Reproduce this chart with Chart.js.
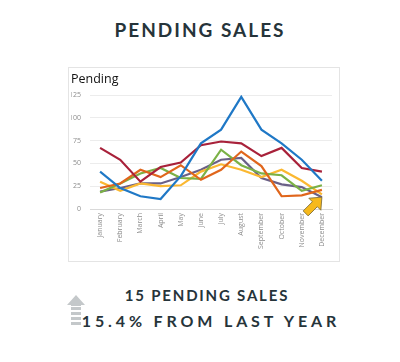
<!DOCTYPE html>
<html>
<head>
<meta charset="utf-8">
<script src="https://cdn.jsdelivr.net/npm/chart.js@4"></script>
<style>
    body { margin: 0; background: #fff; width: 400px; height: 362px; position: relative; overflow: hidden; font-family: Lato, sans-serif; color: #26343a; }
    .heading { position: absolute; top: 18px; left: 0; width: 400px; text-align: center; font-size: 19px; font-weight: 700; letter-spacing: 2px; }
    .box { position: absolute; left: 68px; top: 67px; width: 272px; height: 195px; border: 1px solid #e4e4e4; box-sizing: border-box; }
    .box canvas { display: block; }
    .line1 { position: absolute; top: 286px; left: 7px; width: 400px; text-align: center; font-size: 15px; font-weight: 700; letter-spacing: 1.8px; }
    .line2 { position: absolute; top: 311px; left: 11px; width: 400px; text-align: center; font-size: 16px; font-weight: 700; letter-spacing: 3.85px; }
    .uparrow { position: absolute; left: 66px; top: 294px; }
</style>
</head>
<body>
<div class="heading">PENDING SALES</div>
<div class="box"><canvas id="pendingChart" width="270" height="193"></canvas></div>
<svg class="uparrow" width="20" height="36" viewBox="0 0 20 36">
    <polygon points="10,1 19,11 15,11 15,12 5,12 5,11 1,11" fill="#c4c8ca"/>
    <rect x="5" y="13" width="10" height="3" fill="#c4c8ca"/>
    <rect x="5" y="18" width="10" height="3" fill="#c4c8ca"/>
    <rect x="5" y="23" width="10" height="3" fill="#c4c8ca"/>
    <rect x="5" y="28" width="10" height="3" fill="#c4c8ca"/>
</svg>
<div class="line1">15 PENDING SALES</div>
<div class="line2">15.4% FROM LAST YEAR</div>

<script>
const months = ['January', 'February', 'March', 'April', 'May', 'June', 'July', 'August', 'September', 'October', 'November', 'December'];

const blueSeries   = [41, 23, 14, 11, 36, 72, 87, 123, 87, 72, 54, 31];
const redSeries    = [67, 54, 30, 46, 51, 70, 74, 72, 58, 67, 45, 41];
const orangeSeries = [23, 28, 43, 35, 48, 32, 43, 63, 47, 14, 15, 21];
const greenSeries  = [18, 28, 39, 45, 34, 33, 65, 48, 39, 37, 20, 26];
const yellowSeries = [30, 20, 28, 25, 26, 41, 49, 43, 35, 43, 31, 16];
const purpleSeries = [19, 23, 28, 28, 35, 43, 54, 56, 34, 27, 24, 13];

const yTicks = [0, 25, 50, 75, 100, 125];

function series(data, color) {
    return {
        data: data,
        borderColor: color,
        backgroundColor: color,
        borderWidth: 2.2,
        pointRadius: 0,
        tension: 0,
        fill: false
    };
}

// yellow callout arrow pointing up at the December low
const calloutArrow = {
    id: 'calloutArrow',
    afterDraw(chart) {
        const ctx = chart.ctx;
        const x = chart.scales.x.getPixelForValue(11);
        const y = chart.scales.y.getPixelForValue(purpleSeries[11]);
        ctx.save();
        ctx.translate(x, y);
        ctx.rotate(Math.PI * 0.25);
        ctx.beginPath();
        ctx.moveTo(0, 0);
        ctx.lineTo(8.5, 10);
        ctx.lineTo(3.5, 10);
        ctx.lineTo(3.5, 23);
        ctx.lineTo(-3.5, 23);
        ctx.lineTo(-3.5, 10);
        ctx.lineTo(-8.5, 10);
        ctx.closePath();
        ctx.fillStyle = '#f6b91c';
        ctx.fill();
        ctx.strokeStyle = '#7a6a3a';
        ctx.lineWidth = 0.8;
        ctx.stroke();
        ctx.restore();
    }
};

const ctx = document.getElementById('pendingChart').getContext('2d');

new Chart(ctx, {
    type: 'line',
    data: {
        labels: months,
        datasets: [
            series(blueSeries, '#1f78c6'),
            series(redSeries, '#a8213a'),
            series(orangeSeries, '#e0661c'),
            series(greenSeries, '#7bb146'),
            series(yellowSeries, '#fbb831'),
            series(purpleSeries, '#6a6087')
        ]
    },
    options: {
        responsive: false,
        animation: false,
        layout: { padding: { left: 2, right: 7, top: 0, bottom: 0 } },
        plugins: {
            legend: { display: false },
            tooltip: { enabled: false },
            title: {
                display: true,
                text: 'Pending',
                align: 'start',
                color: '#111',
                font: { family: 'Open Sans', size: 12.5, weight: 'normal' },
                padding: { top: 4, bottom: 8 }
            }
        },
        scales: {
            x: {
                offset: true,
                grid: { display: false, drawTicks: false },
                border: { display: true, color: '#d9d9d9' },
                ticks: {
                    color: '#8c8c8c',
                    font: { family: 'Open Sans', size: 7 },
                    minRotation: 90,
                    maxRotation: 90,
                    padding: 4,
                    autoSkip: false
                },
                afterFit(scale) { scale.height = 52; }
            },
            y: {
                min: 0,
                max: 125,
                afterBuildTicks(scale) { scale.ticks = yTicks.map(v => ({ value: v })); },
                grid: { color: '#ececec', drawTicks: false },
                border: { display: false },
                ticks: {
                    color: '#8c8c8c',
                    font: { family: 'Open Sans', size: 7 },
                    padding: 9
                },
                afterFit(scale) { scale.width = 19; }
            }
        }
    },
    plugins: [calloutArrow]
});
</script>
</body>
</html>
